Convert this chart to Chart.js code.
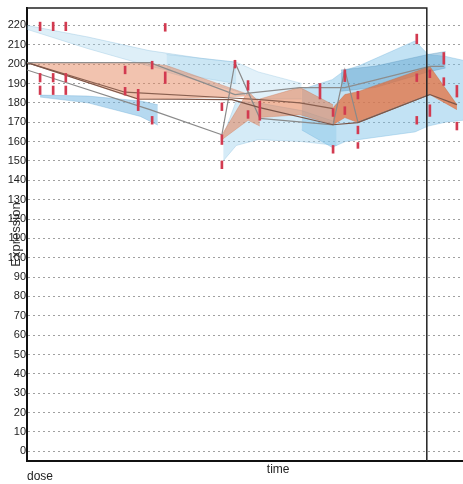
<!DOCTYPE html>
<html>
<head>
<meta charset="utf-8">
<script src="https://cdn.jsdelivr.net/npm/chart.js@4"></script>
<style>
  html, body { margin: 0; padding: 0; background: #fff; }
  #wrap { width: 463px; height: 484px; }
</style>
</head>
<body>
<div id="wrap"><canvas id="expression-chart"></canvas></div>
<script>
// y axis ticks and range
const yTicks = [0, 10, 20, 30, 40, 50, 60, 70, 80, 90, 100, 110, 120, 130, 140, 150, 160, 170, 180, 190, 200, 210, 220];
const yMin = -5;
const yMax = 229;
const timeTick = 57.6;
const splitX = 91.7;

// blue bands (upper / lower edges share x)
const blueTopX = [0, 14, 28, 40, 48];
const blueTopHi = [220, 214, 207, 203, 201];
const blueTopLo = [218, 208, 199, 193, 190];

const blueLowX = [3, 14, 26, 30];
const blueLowHi = [184, 183.5, 181, 179];
const blueLowLo = [183, 180, 173, 168.5];

const blueMidX = [32, 48, 53, 63];
const blueMidHi = [205, 201, 196, 190];
const blueMidLo = [196, 186, 182, 182];

const blueDropX = [45, 48, 53, 63, 71];
const blueDropHi = [163, 181, 180, 176, 170];
const blueDropLo = [150, 158, 161, 160, 158];

const blueRightX = [63, 70, 73, 76, 89, 92, 96, 100];
const blueRightHi = [187, 192, 197, 199, 212, 205, 204, 202];
const blueRightLo = [166, 157, 160, 161, 165, 168, 170, 171];

const tealX = [72, 80, 92, 96];
const tealHi = [197, 199, 205, 206.5];
const tealLo = [186, 188, 196, 198];

// orange bands
const orangeAX = [0, 25.5, 32, 50];
const orangeAHi = [200.8, 200.8, 199.3, 185];
const orangeALo = [200.8, 181.7, 182, 183.5];

const orangeBX = [44.7, 50.7, 53.4];
const orangeBHi = [163.5, 186, 180];
const orangeBLo = [161, 171, 168];

const orangeCX = [53.4, 62.6, 70.2];
const orangeCHi = [182, 188, 179];
const orangeCLo = [172.4, 173.9, 168.7];

const orangeDX = [70.2, 72.9, 75.9, 92.4, 98.6];
const orangeDHi = [177.5, 184.3, 185.8, 198.8, 179.1];
const orangeDLo = [168.7, 172.4, 169.8, 184.3, 176.5];

// trajectory lines
const lineAX = [0, 28.2, 47.7, 62.6, 72.9, 92.4, 95.6];
const lineAY = [200.8, 200.8, 184.3, 187.9, 187.9, 198.8, 198.8];
const lineBX = [0, 25.5, 47, 53.4, 70.2, 75.9, 92.4, 98.6];
const lineBY = [200.8, 182, 181.7, 177.5, 168.7, 169.8, 184.3, 179.1];
const lineCX = [0, 28.2, 44.7, 47.7, 53.4, 70.2, 72.9, 75.9, 92.4];
const lineCY = [197, 176.5, 163.5, 200.8, 172, 168.7, 197, 170, 184.3];
const lineDX = [0, 22.5, 47, 53.4, 62.6, 70.2];
const lineDY = [200.8, 185.5, 182.5, 181.7, 180, 177];

// red error ticks
const errX = [3, 6, 8.9, 3, 6, 8.9, 3, 6, 8.9, 22.5, 22.5, 25.5, 25.5, 28.7, 28.7, 31.7, 31.7,
  47.7, 44.7, 44.7, 44.7, 50.7, 50.7, 53.4, 67.2, 70.2, 70.2, 72.9, 72.9, 75.9, 75.9, 75.9,
  89.4, 89.4, 89.4, 92.4, 92.4, 95.6, 95.6, 98.6, 98.6];
const errMid = [219.5, 219.5, 219.5, 193, 193, 193, 186.5, 186.5, 186.5, 197, 186, 183, 178.5, 199.5, 171, 219, 193,
  200, 178, 161, 148, 189, 174, 176, 186, 175, 156, 194, 176, 184, 166, 158,
  213, 193, 171, 195, 176, 203, 191, 186, 168];
const errHalf = [2.2, 2.2, 2.2, 2.2, 2.2, 2.2, 2.2, 2.2, 2.2, 2, 2, 4, 2.5, 2, 2, 2, 3,
  2, 2, 2.5, 2, 2.5, 2, 5, 4, 2, 2, 3, 2, 2, 2, 1.5,
  2.5, 2, 2, 2, 3, 3, 2, 3, 2];

function pts(xs, ys) {
  return xs.map((x, i) => ({ x: x, y: ys[i] }));
}

const datasets = [];

function band(xs, hi, lo, fillColor, edgeColor, order) {
  datasets.push({
    type: 'line', data: pts(xs, hi), fill: '+1', backgroundColor: fillColor,
    borderColor: edgeColor, borderWidth: 0.7, pointRadius: 0, tension: 0, order: order
  });
  datasets.push({
    type: 'line', data: pts(xs, lo), fill: false,
    borderColor: edgeColor, borderWidth: 0.7, pointRadius: 0, tension: 0, order: order
  });
}

// orange first so it sits above the blue
band(orangeDX, orangeDHi, orangeDLo, 'rgba(230,108,55,0.72)', 'rgba(200,100,60,0.6)', 4);
band(orangeCX, orangeCHi, orangeCLo, 'rgba(228,125,80,0.55)', 'rgba(200,120,90,0.5)', 4);
band(orangeBX, orangeBHi, orangeBLo, 'rgba(228,130,90,0.55)', 'rgba(200,120,90,0.5)', 4);
band(orangeAX, orangeAHi, orangeALo, 'rgba(230,135,95,0.5)', 'rgba(200,120,90,0.5)', 4);

band(tealX, tealHi, tealLo, 'rgba(90,160,205,0.45)', 'rgba(90,150,190,0.5)', 6);
band(blueRightX, blueRightHi, blueRightLo, 'rgba(120,190,230,0.45)', 'rgba(100,170,215,0.45)', 6);
band(blueDropX, blueDropHi, blueDropLo, 'rgba(150,205,235,0.4)', 'rgba(120,180,215,0.45)', 6);
band(blueLowX, blueLowHi, blueLowLo, 'rgba(110,180,225,0.5)', 'rgba(100,165,210,0.5)', 6);
band(blueMidX, blueMidHi, blueMidLo, 'rgba(160,210,235,0.3)', 'rgba(120,180,215,0.4)', 6);
band(blueTopX, blueTopHi, blueTopLo, 'rgba(160,210,235,0.35)', 'rgba(120,180,215,0.45)', 6);

[[lineAX, lineAY, '#8d8d8d'], [lineBX, lineBY, '#7a5548'], [lineCX, lineCY, '#8a8a8a'], [lineDX, lineDY, '#8a6050']]
  .forEach(([xs, ys, c]) => {
    datasets.push({
      type: 'line', data: pts(xs, ys), fill: false, borderColor: c,
      borderWidth: 1.2, pointRadius: 0, tension: 0, order: 3
    });
  });

// frame: top edge and divider line
datasets.push({
  type: 'line', data: pts([0, splitX, splitX], [yMax, yMax, yMin]), fill: false,
  borderColor: '#222', borderWidth: 1.5, pointRadius: 0, clip: false, order: 2
});

datasets.push({
  type: 'bar',
  data: errX.map((x, i) => ({ x: x, y: [errMid[i] - errHalf[i], errMid[i] + errHalf[i]] })),
  backgroundColor: '#d23a50',
  barThickness: 2,
  order: 1
});

const ctx = document.getElementById('expression-chart').getContext('2d');
new Chart(ctx, {
  type: 'line',
  data: { datasets: datasets },
  options: {
    responsive: true,
    maintainAspectRatio: false,
    animation: false,
    layout: { padding: { top: 8, right: 0, left: 0, bottom: 0 } },
    plugins: { legend: { display: false }, tooltip: { enabled: false } },
    scales: {
      x: {
        type: 'linear',
        min: 0,
        max: 100,
        offset: false,
        grid: { display: false, drawTicks: false },
        border: { display: true, color: '#111', width: 2 },
        afterBuildTicks: function(axis) { axis.ticks = [{ value: timeTick }]; },
        afterFit: function(axis) { axis.height = 23; },
        ticks: {
          padding: 1,
          maxRotation: 0,
          color: '#222',
          font: { family: 'Liberation Sans', size: 12 },
          callback: function() { return 'time'; }
        },
        title: {
          display: true,
          text: 'dose',
          align: 'start',
          color: '#222',
          padding: { top: 4, bottom: 0 },
          font: { family: 'Liberation Sans', size: 12 }
        }
      },
      y: {
        type: 'linear',
        min: yMin,
        max: yMax,
        afterBuildTicks: function(axis) { axis.ticks = yTicks.map(v => ({ value: v })); },
        afterFit: function(axis) { axis.width = 27; },
        grid: { color: '#a0a0a0', lineWidth: 1, drawTicks: false },
        border: { display: true, color: '#111', width: 2, dash: [2, 3] },
        ticks: {
          padding: 1,
          color: '#222',
          font: { family: 'Liberation Sans', size: 11 }
        },
        title: {
          display: true,
          text: 'Expression',
          color: '#333',
          padding: { top: 9, bottom: 0 },
          font: { family: 'Liberation Sans', size: 13 }
        }
      }
    }
  }
});
</script>
</body>
</html>
